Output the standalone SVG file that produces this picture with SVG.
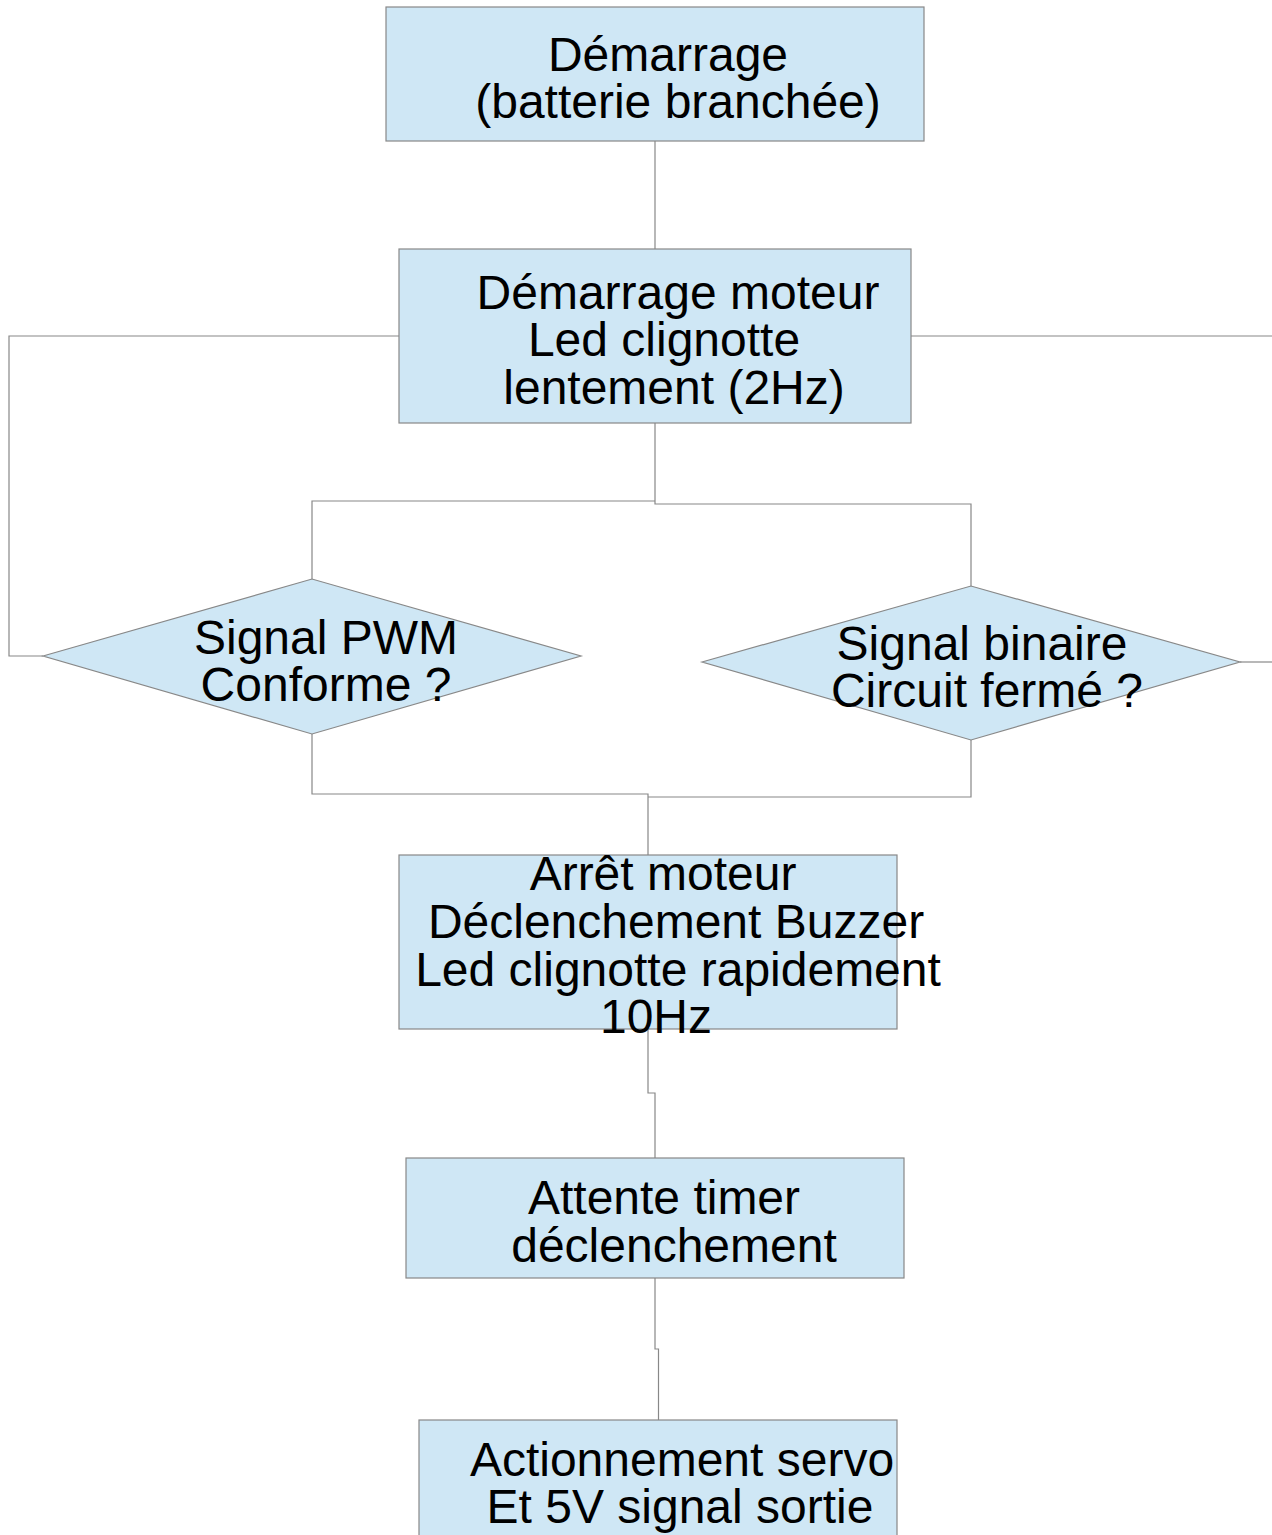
<svg xmlns="http://www.w3.org/2000/svg" width="1272" height="1535" viewBox="0 0 1272 1535">
<style>
.n{fill:#cfe7f5;stroke:#888;stroke-width:1.2}
.t{font-family:"Liberation Sans",Arial,sans-serif;font-size:48px;fill:#000;text-anchor:middle}
.c{fill:none;stroke:#888;stroke-width:1.2}
</style>
<rect width="1272" height="1535" fill="#fff"/>
<g id="connectors">
<path class="c" d="M655,141 V249"/>
<path class="c" d="M399,336 H9 V656 H43"/>
<path class="c" d="M911,336 H1272"/>
<path class="c" d="M1240,662 H1272"/>
<path class="c" d="M655,423 V504 H971 V586"/>
<path class="c" d="M655,501 H312 V579"/>
<path class="c" d="M312,734 V794 H648 V855"/>
<path class="c" d="M971,740 V797 H648"/>
<path class="c" d="M648,1029 V1093 H655 V1158"/>
<path class="c" d="M655,1278 V1349 H658.5 V1420"/>
</g>
<g id="n1">
<rect class="n" x="386" y="7" width="538" height="134"/>
<text class="t"><tspan x="668" y="71">Démarrage</tspan><tspan x="678" y="118">(batterie branchée)</tspan></text>
</g>
<g id="n2">
<rect class="n" x="399" y="249" width="512" height="174"/>
<text class="t"><tspan x="678" y="309">Démarrage moteur</tspan><tspan x="664" y="356">Led clignotte</tspan><tspan x="674" y="404">lentement (2Hz)</tspan></text>
</g>
<g id="d1">
<polygon class="n" points="43,656 312,579 581,656 312,734"/>
<text class="t"><tspan x="326" y="654">Signal PWM</tspan><tspan x="326" y="701">Conforme ?</tspan></text>
</g>
<g id="d2">
<polygon class="n" points="702,662 971,586 1240,662 971,740"/>
<text class="t"><tspan x="982" y="660">Signal binaire</tspan><tspan x="987" y="707">Circuit fermé ?</tspan></text>
</g>
<g id="n3">
<rect class="n" x="399" y="855" width="498" height="174"/>
<text class="t"><tspan x="663" y="890">Arrêt moteur</tspan><tspan x="676" y="938">Déclenchement Buzzer</tspan><tspan x="678" y="986">Led clignotte rapidement</tspan><tspan x="656" y="1033">10Hz</tspan></text>
</g>
<g id="n4">
<rect class="n" x="406" y="1158" width="498" height="120"/>
<text class="t"><tspan x="664" y="1214">Attente timer</tspan><tspan x="674" y="1262">déclenchement</tspan></text>
</g>
<g id="n5">
<rect class="n" x="419" y="1420" width="478" height="130"/>
<text class="t"><tspan x="682" y="1476">Actionnement servo</tspan><tspan x="680" y="1523">Et 5V signal sortie</tspan></text>
</g>
</svg>
